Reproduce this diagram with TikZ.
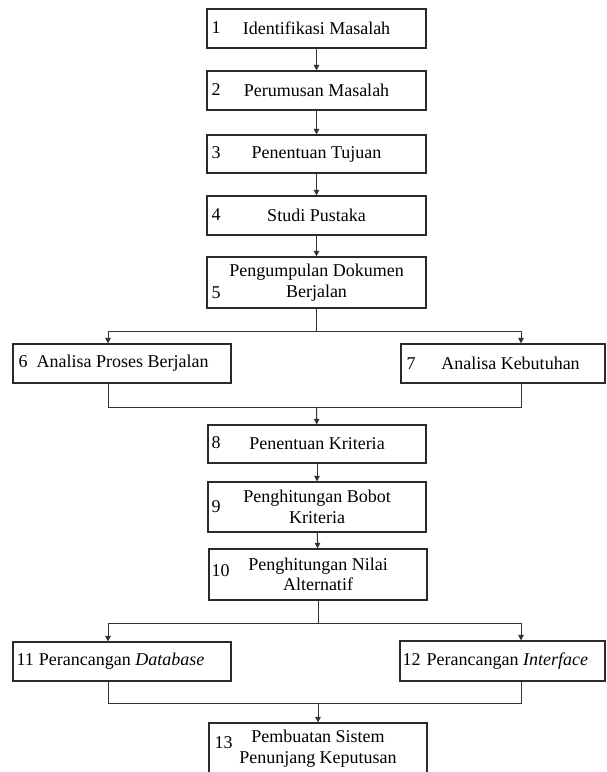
\documentclass[tikz,border=0pt]{standalone}
\usepackage{fontspec}
\setmainfont{Liberation Serif}
\usetikzlibrary{arrows.meta,calc}
\definecolor{lncol}{HTML}{333333}
\definecolor{bxcol}{HTML}{2A2A2A}
\begin{document}
\begin{tikzpicture}[x=1pt,y=-1pt,
  font=\fontsize{18}{20.5}\selectfont,
  box/.style 2 args={draw=bxcol, line width=1.2pt, minimum width=#1pt, minimum height=#2pt, inner sep=0pt, align=center},
  num/.style={anchor=west, inner sep=0pt},
  lbl/.style={inner sep=0pt, align=center},
  ln/.style={draw=lncol, line width=1pt},
  arr/.style={ln, -{Triangle[length=5.5pt,width=5.5pt]}}
]
\useasboundingbox[fill=white] (0,0) rectangle (607,772);

% boxes
\node[box={219}{39}] (b1) at (316.5,28.5) {Identifikasi Masalah};
\node[box={219}{39}] (b2) at (316.5,90.5) {Perumusan Masalah};
\node[box={219}{38}] (b3) at (316.5,154) {Penentuan Tujuan};
\node[box={219}{39}] (b4) at (316.5,215.5) {Studi Pustaka};
\node[box={219}{51}] (b5) at (316.5,282.5) {Pengumpulan Dokumen\\Berjalan};
\node[box={218}{39}] (b6) at (122,363.5) {};
\node[box={204}{39}] (b7) at (503,363.5) {};
\node[box={218}{38}] (b8) at (317,444) {Penentuan Kriteria};
\node[box={218}{50}] (b9) at (317,507) {Penghitungan Bobot\\Kriteria};
\node[box={218}{51}] (b10) at (318,574.5) {Penghitungan Nilai\\Alternatif};
\node[box={218}{39}] (b11) at (122,661.5) {};
\node[box={205}{40}] (b12) at (502.5,661) {};
\node[box={218}{51}] (b13) at (318,748.5) {Pembuatan Sistem\\Penunjang Keputusan};

% numbers
\node[num] (n1) at ($(b1.west)+(5,-1)$) {1};
\node[num] (n2) at ($(b2.west)+(5,-1)$) {2};
\node[num] (n3) at ($(b3.west)+(5,-1)$) {3};
\node[num] (n4) at ($(b4.west)+(5,-1)$) {4};
\node[num] (n5) at ($(b5.west)+(5,10)$) {5};
\node[num] (n6) at ($(b6.west)+(6,0)$) {6\hspace{9pt}Analisa Proses Berjalan};
\node[num] (n7) at ($(b7.west)+(6,0)$) {7};
\node[lbl] (t7) at (510.5,363.5) {Analisa Kebutuhan};
\node[num] (n8) at ($(b8.west)+(4,-1)$) {8};
\node[num] (n9) at ($(b9.west)+(4,0)$) {9};
\node[num] (n10) at ($(b10.west)+(3,-4)$) {10};
\node[num] (n11) at ($(b11.west)+(4,0)$) {11\hspace{5pt}Perancangan \textit{Database}};
\node[num] (n12) at ($(b12.west)+(3,0)$) {12\hspace{6pt}Perancangan \textit{Interface}};
\node[num] (n13) at ($(b13.west)+(6,-6)$) {13};

% junction coordinates
\coordinate (c6) at (108,0);
\coordinate (c7) at (521,0);
\coordinate (j1) at (316.5,331);
\coordinate (m1) at (316.5,407);
\coordinate (j2) at (318,623);
\coordinate (m2) at (318,703);

% connectors
\draw[arr] (b1) -- (b2);
\draw[arr] (b2) -- (b3);
\draw[arr] (b3) -- (b4);
\draw[arr] (b4) -- (b5);
\draw[ln] (b5) -- (j1);
\draw[arr] (j1) -| (b6.north -| c6);
\draw[arr] (j1) -| (b7.north -| c7);
\draw[ln] (b6.south -| c6) |- (m1);
\draw[ln] (b7.south -| c7) |- (m1);
\draw[arr] (m1) -- (b8);
\draw[arr] (b8) -- (b9);
\draw[arr] (b9) -- (b10);
\draw[ln] (b10) -- (j2);
\draw[arr] (j2) -| (b11.north -| c6);
\draw[arr] (j2) -| (b12.north -| c7);
\draw[ln] (b11.south -| c6) |- (m2);
\draw[ln] (b12.south -| c7) |- (m2);
\draw[arr] (m2) -- (b13);
\end{tikzpicture}
\end{document}
